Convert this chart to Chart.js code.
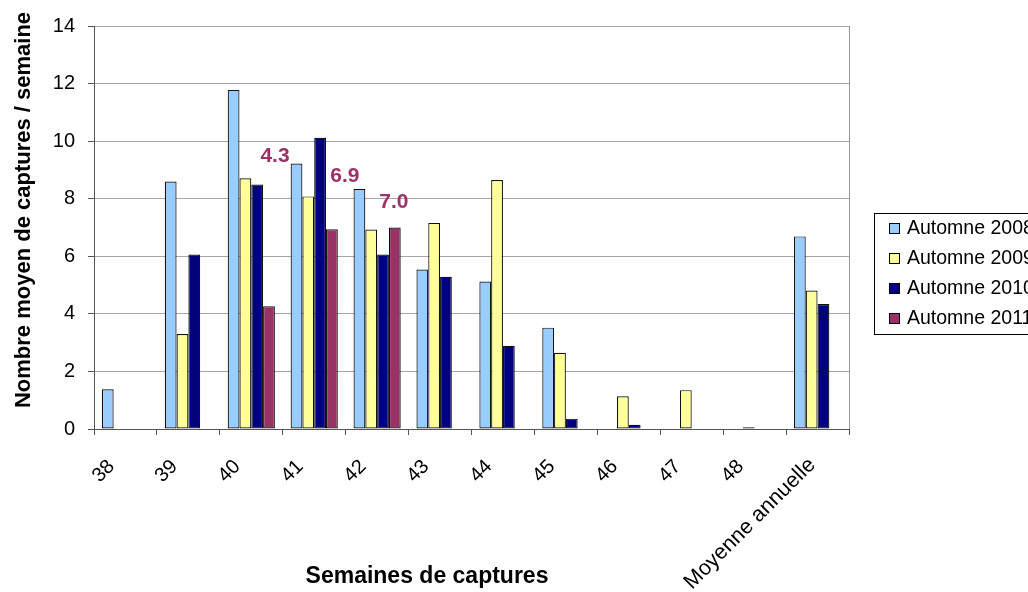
<!DOCTYPE html>
<html>
<head>
<meta charset="utf-8">
<script src="https://cdn.jsdelivr.net/npm/chart.js@4/dist/chart.umd.min.js"></script>
<style>
  html, body { margin: 0; padding: 0; background: #fff; }
  #wrap { width: 1028px; height: 592px; }
</style>
</head>
<body>
<div id="wrap"><canvas id="grph" width="1028" height="592"></canvas></div>
<script>

// data
const WEEKS = ["38", "39", "40", "41", "42", "43", "44", "45", "46", "47", "48", "Moyenne annuelle"];
const SERIES = ["Automne 2008", "Automne 2009", "Automne 2010", "Automne 2011"];

const A2008 = [1.38, 8.6, 11.78, 9.22, 8.34, 5.54, 5.12, 3.52, null, null, null, 6.69];
const A2009 = [null, 3.3, 8.71, 8.08, 6.93, 7.16, 8.65, 2.65, 1.14, 1.35, 0.06, 4.81];
const A2010 = [null, 6.06, 8.49, 10.12, 6.06, 5.29, 2.89, 0.36, 0.15, null, null, 4.34];
const A2011 = [null, null, 4.26, 6.94, 7.0, null, null, null, null, null, null, null];

const Y_TICKS = [0, 2, 4, 6, 8, 10, 12, 14];

const COLORS = ["#99CCFF", "#FFFF99", "#000080", "#993366"];

const FONT = "'Liberation Sans', Arial, sans-serif";

// where the 2011 value labels float (x nudge in px, height in axis units)
const LABEL_SPOT = [[6, 9.47], [13, 8.77], [-1, 7.89]];

const LONG = WEEKS.length - 1; // "Moyenne annuelle" sits differently, drawn below

const extras = {
    id: "extras",
    afterDraw(chart) {
        const c = chart.ctx;
        const area = chart.chartArea;
        const sx = chart.scales.x;
        const sy = chart.scales.y;

        c.save();

        // plot border on the right
        c.strokeStyle = "#999999";
        c.lineWidth = 1;
        c.beginPath();
        c.moveTo(area.right + 0.5, area.top);
        c.lineTo(area.right + 0.5, area.bottom);
        c.stroke();

        // the long category label
        c.save();
        c.translate(sx.getPixelForTick(LONG) - 13, area.bottom + 25);
        c.rotate(-Math.PI / 4);
        c.fillStyle = "#000";
        c.font = "21.5px " + FONT;
        c.textAlign = "right";
        c.textBaseline = "top";
        c.fillText(WEEKS[LONG], 0, 0);
        c.restore();

        // 2011 labels
        const meta = chart.getDatasetMeta(3);
        c.fillStyle = "#993366";
        c.font = "bold 21px " + FONT;
        c.textAlign = "center";
        c.textBaseline = "middle";
        let k = 0;
        A2011.forEach((v, i) => {
            if (v === null) return;
            const bar = meta.data[i];
            const spot = LABEL_SPOT[k++];
            c.fillText(v.toFixed(1), bar.x + spot[0], sy.getPixelForValue(spot[1]));
        });

        // axis titles
        c.fillStyle = "#000";
        c.font = "bold 23px " + FONT;
        c.textAlign = "center";
        c.textBaseline = "alphabetic";
        c.fillText("Semaines de captures", 427, 583);

        c.save();
        c.translate(30, 210);
        c.rotate(-Math.PI / 2);
        c.font = "bold 22px " + FONT;
        c.fillText("Nombre moyen de captures / semaine", 0, 0);
        c.restore();

        // legend
        const lx = 874, ly = 213;
        c.strokeStyle = "#000";
        c.strokeRect(lx + 0.5, ly + 0.5, 300, 121);
        c.font = "19.5px " + FONT;
        c.textAlign = "left";
        c.textBaseline = "middle";
        chart.data.datasets.forEach((ds, j) => {
            const yy = ly + 15 + j * 30;
            c.fillStyle = ds.backgroundColor;
            c.fillRect(lx + 15, yy - 5, 10, 10);
            c.strokeRect(lx + 15.5, yy - 4.5, 10, 10);
            c.fillStyle = "#000";
            c.fillText(ds.label, lx + 33, yy + 1);
        });

        c.restore();
    }
};

const Graph = document.getElementById("grph");

new Chart(Graph, {
    type: "bar",
    data: {
        labels: WEEKS,
        datasets: [A2008, A2009, A2010, A2011].map((d, j) => ({
            label: SERIES[j],
            data: d,
            backgroundColor: COLORS[j],
            borderColor: "#111",
            borderWidth: 1.2,
            borderSkipped: false,
            categoryPercentage: 0.75,
            barPercentage: 1
        }))
    },
    options: {
        responsive: false,
        animation: false,
        layout: { padding: { top: 26, right: 179, left: 0, bottom: 0 } },
        plugins: {
            legend: { display: false },
            tooltip: { enabled: false }
        },
        scales: {
            x: {
                offset: true,
                grid: {
                    offset: true,
                    drawOnChartArea: false,
                    drawTicks: true,
                    tickLength: 6,
                    color: "#555"
                },
                border: { color: "#555", width: 1 },
                ticks: {
                    autoSkip: false,
                    minRotation: 45,
                    maxRotation: 45,
                    padding: 20,
                    labelOffset: -14,
                    callback: (v, i) => i === LONG ? "" : WEEKS[i],
                    color: "#000",
                    font: { family: FONT, size: 20 }
                },
                afterFit(scale) { scale.height = 163; }
            },
            y: {
                min: 0,
                max: 14,
                afterBuildTicks(scale) { scale.ticks = Y_TICKS.map(v => ({ value: v })); },
                grid: {
                    color: "#a6a6a6",
                    tickColor: "#555",
                    tickLength: 6
                },
                border: { color: "#555", width: 1 },
                ticks: {
                    padding: 13,
                    color: "#000",
                    font: { family: FONT, size: 20 }
                },
                afterFit(scale) { scale.width = 94; }
            }
        }
    },
    plugins: [extras]
});

</script>
</body>
</html>
